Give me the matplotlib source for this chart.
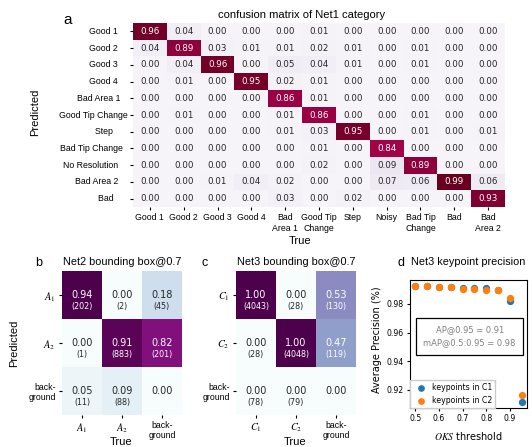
import matplotlib

matplotlib.use("Agg")
import matplotlib.pyplot as plt
import numpy as np
import seaborn as sns

plt.rcParams["font.family"] = ["DejaVu Sans"]
plt.rcParams["mathtext.fontset"] = "stix"

LABEL_FONT = "Liberation Sans"

# --- Net1: category confusion matrix (rows = predicted, cols = true)
net1_pred = ["Good 1    ", "Good 2    ", "Good 3    ", "Good 4    ", "Bad Area 1   ",
             "Good Tip Change", "Step      ", "Bad Tip Change  ", "No Resolution    ",
             "Bad Area 2    ", "Bad      "]
net1_true = ["Good 1", "Good 2", "Good 3", "Good 4", "Bad\nArea 1", "Good Tip\nChange",
             "Step", "Noisy", "Bad Tip\nChange", "Bad", "Bad\nArea 2"]
net1_cm = [
    [0.96, 0.04, 0.00, 0.00, 0.00, 0.01, 0.00, 0.00, 0.00, 0.00, 0.00],
    [0.04, 0.89, 0.03, 0.01, 0.01, 0.02, 0.01, 0.00, 0.01, 0.00, 0.00],
    [0.00, 0.04, 0.96, 0.00, 0.05, 0.04, 0.01, 0.00, 0.01, 0.00, 0.00],
    [0.00, 0.01, 0.00, 0.95, 0.02, 0.01, 0.00, 0.00, 0.00, 0.00, 0.00],
    [0.00, 0.00, 0.00, 0.00, 0.86, 0.01, 0.00, 0.00, 0.00, 0.00, 0.00],
    [0.00, 0.01, 0.00, 0.00, 0.01, 0.86, 0.00, 0.00, 0.01, 0.00, 0.00],
    [0.00, 0.00, 0.00, 0.00, 0.01, 0.03, 0.95, 0.00, 0.01, 0.00, 0.01],
    [0.00, 0.00, 0.00, 0.00, 0.00, 0.01, 0.00, 0.84, 0.00, 0.00, 0.00],
    [0.00, 0.00, 0.00, 0.00, 0.00, 0.02, 0.00, 0.09, 0.89, 0.00, 0.00],
    [0.00, 0.00, 0.01, 0.04, 0.02, 0.00, 0.00, 0.07, 0.06, 0.99, 0.06],
    [0.00, 0.00, 0.00, 0.00, 0.03, 0.00, 0.02, 0.00, 0.00, 0.00, 0.93],
]

# --- Net2 / Net3 bounding box matrices (fraction + raw count, None = no count)
net2_labels = ["$A_1$", "$A_2$", "back-\nground"]
net2_frac = [[0.94, 0.00, 0.18], [0.00, 0.91, 0.82], [0.05, 0.09, 0.00]]
net2_count = [[202, 2, 45], [1, 883, 201], [11, 88, None]]

net3_labels = ["$C_1$", "$C_2$", "back-\nground"]
net3_frac = [[1.00, 0.00, 0.53], [0.00, 1.00, 0.47], [0.00, 0.00, 0.00]]
net3_count = [[4043, 28, 130], [28, 4048, 119], [78, 79, None]]

# --- Net3 keypoint AP vs OKS threshold
oks = [0.50, 0.55, 0.60, 0.65, 0.70, 0.75, 0.80, 0.85, 0.90, 0.95]
ap_c1 = [0.9926, 0.9923, 0.9919, 0.9919, 0.9914, 0.9914, 0.9909, 0.9895, 0.9823, 0.9114]
ap_c2 = [0.9926, 0.9923, 0.9919, 0.9916, 0.9902, 0.9902, 0.9900, 0.9895, 0.9840, 0.9163]


def text_color(rgba):
    # same rule seaborn uses for annotation contrast
    rgb = np.asarray(rgba[:3])
    lin = np.where(rgb <= 0.03928, rgb / 12.92, ((rgb + 0.055) / 1.055) ** 2.4)
    lum = 0.2126 * lin[0] + 0.7152 * lin[1] + 0.0722 * lin[2]
    return ".15" if lum > 0.408 else "w"


def box_matrix(ax, frac, count, labels, title):
    frac = np.asarray(frac)
    cmap = plt.get_cmap("BuPu")
    norm = plt.Normalize(frac.min(), frac.max())
    ax.imshow(frac, cmap=cmap, norm=norm, aspect="auto")
    for i in range(frac.shape[0]):
        for j in range(frac.shape[1]):
            c = text_color(cmap(norm(frac[i, j])))
            ax.text(j, i, f"{frac[i, j]:.2f}", ha="center", va="center",
                    fontsize=7, color=c)
            if count[i][j] is not None:
                ax.text(j, i + 0.24, f"({count[i][j]})", ha="center", va="center",
                        fontsize=5.8, color=c)
    for s in ax.spines.values():
        s.set_visible(False)
    ax.set_xticks(range(3))
    ax.set_yticks(range(3))
    ax.set_xticklabels(labels)
    ax.set_yticklabels(labels)
    ax.tick_params(length=2.5, width=0.8, pad=2)
    for lab in ax.get_xticklabels() + ax.get_yticklabels():
        if lab.get_text().startswith("$"):
            lab.set_fontsize(7.5)
        else:
            lab.set_fontsize(6.3)
            lab.set_fontfamily(LABEL_FONT)
            lab.set_linespacing(1.1)
    ax.set_title(title, fontsize=7.8, family=LABEL_FONT, pad=4.3)
    ax.set_xlabel("True", fontsize=8, family=LABEL_FONT)
    ax.xaxis.set_label_coords(0.49, -0.15)


fig = plt.figure(figsize=(5.32, 4.47), dpi=100)

# panel a
ax_a = fig.add_axes([133 / 532, 1 - 207 / 447, 372 / 532, 184 / 447])
sns.heatmap(np.array(net1_cm), ax=ax_a, cmap="PuRd", annot=True, fmt=".2f", cbar=False,
            xticklabels=net1_true, yticklabels=net1_pred,
            annot_kws={"fontsize": 6.3})
ax_a.tick_params(length=2.5, width=0.8, pad=1.5)
for lab in ax_a.get_yticklabels():
    lab.set_rotation(0)
    lab.set_fontsize(6.3)
    lab.set_fontfamily(LABEL_FONT)
for lab in ax_a.get_xticklabels():
    lab.set_rotation(0)
    lab.set_fontsize(6.3)
    lab.set_fontfamily(LABEL_FONT)
    lab.set_linespacing(1.3)
ax_a.set_title("confusion matrix of Net1 category", fontsize=8, family=LABEL_FONT,
               x=0.454, pad=3.6)
ax_a.set_xlabel("True", fontsize=8, family=LABEL_FONT)
ax_a.xaxis.set_label_coords(0.449, -0.16)
ax_a.set_ylabel("Predicted", fontsize=8, family=LABEL_FONT)
ax_a.yaxis.set_label_coords(-0.25, 0.514)

# panels b and c
ax_b = fig.add_axes([62 / 532, 1 - 415 / 447, 120 / 532, 144 / 447])
box_matrix(ax_b, net2_frac, net2_count, net2_labels, "Net2 bounding box@0.7")
ax_b.set_ylabel("Predicted", fontsize=8, family=LABEL_FONT)
ax_b.yaxis.set_label_coords(-0.358, 0.5)

ax_c = fig.add_axes([236 / 532, 1 - 415 / 447, 120 / 532, 144 / 447])
box_matrix(ax_c, net3_frac, net3_count, net3_labels, "Net3 bounding box@0.7")

# panel d
ax_d = fig.add_axes([410 / 532, 1 - 408 / 447, 117 / 532, 128 / 447])
ax_d.scatter(oks, ap_c1, s=18, color="#1f77b4", label="keypoints in C1", zorder=3)
ax_d.scatter(oks, ap_c2, s=18, color="#ff7f0e", label="keypoints in C2", zorder=3)
ax_d.set_xticks([0.5, 0.6, 0.7, 0.8, 0.9])
ax_d.set_yticks([0.92, 0.94, 0.96, 0.98])
ax_d.tick_params(labelsize=5.6, length=2.5, width=0.8, pad=2)
ax_d.text(0.51, 0.56, "AP@0.95 = 0.91\nmAP@0.5:0.95 = 0.98", transform=ax_d.transAxes,
          ha="center", va="center", fontsize=6, color="0.5", linespacing=1.5,
          bbox=dict(boxstyle="square,pad=0.9", fc="w", ec="k", lw=0.9))
ax_d.legend(loc="lower left", fontsize=5.6, borderaxespad=0, framealpha=1,
            handletextpad=0.4, markerscale=0.9, fancybox=False, edgecolor="0.8")
ax_d.set_title("Net3 keypoint precision", fontsize=7.8, family=LABEL_FONT, pad=11)
ax_d.set_xlabel("$OKS$ threshold", fontsize=7)
ax_d.xaxis.set_label_coords(0.5, -0.17)
ax_d.set_ylabel("Average Precision (%)", fontsize=7)
ax_d.yaxis.set_label_coords(-0.24, 0.53)

# panel letters
for letter, x, y, size in [("a", 68, 20, 11), ("b", 39, 263, 9),
                           ("c", 205, 263, 9), ("d", 401, 263, 9)]:
    fig.text(x / 532, 1 - y / 447, letter, ha="center", va="center",
             fontsize=size, family=LABEL_FONT)

fig.savefig("out.png", dpi=100)
